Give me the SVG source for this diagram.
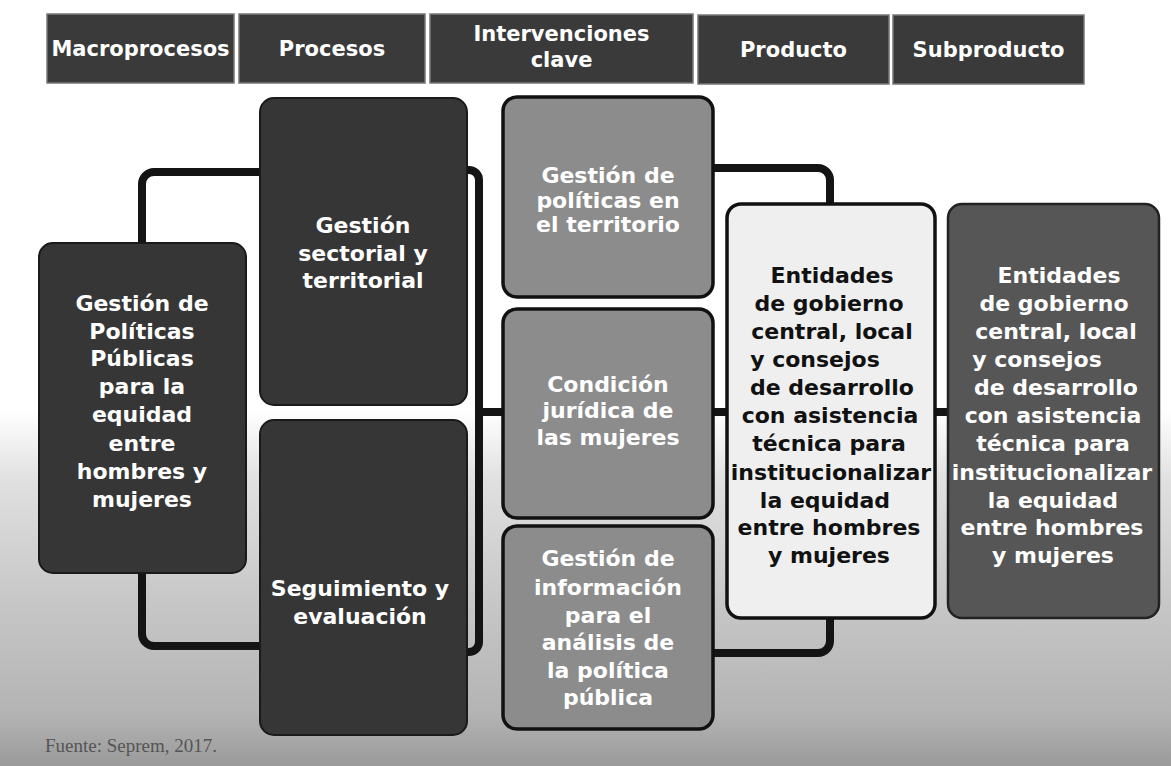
<svg xmlns="http://www.w3.org/2000/svg" width="1171" height="766" viewBox="0 0 1171 766">
  <defs>
    <linearGradient id="bg" x1="0" y1="0" x2="0" y2="1">
      <stop offset="0" stop-color="#ffffff"/>
      <stop offset="0.2" stop-color="#e0e0e0"/>
      <stop offset="0.55" stop-color="#c6c6c6"/>
      <stop offset="0.85" stop-color="#b4b4b4"/>
      <stop offset="1" stop-color="#9a9a9a"/>
    </linearGradient>
    <style>
      .hdr { fill: #3a3a3a; stroke: #777; stroke-width: 1.5; }
      .hdrtxt { font-family: "DejaVu Sans", "Liberation Sans", sans-serif; font-weight: bold; font-size: 21px; fill: #ffffff; text-anchor: middle; }
      .dark { fill: #363636; stroke: #1a1a1a; stroke-width: 2; }
      .mid { fill: #8c8c8c; stroke: #111; stroke-width: 3.5; }
      .light { fill: #efefef; stroke: #111; stroke-width: 3.5; }
      .sub { fill: #565656; stroke: #222; stroke-width: 2.5; }
      .wt { font-family: "DejaVu Sans", "Liberation Sans", sans-serif; font-weight: bold; font-size: 22px; fill: #ffffff; text-anchor: middle; }
      .bt { font-family: "DejaVu Sans", "Liberation Sans", sans-serif; font-weight: bold; font-size: 22px; fill: #111111; text-anchor: middle; }
      .conn { fill: none; stroke: #141414; stroke-width: 8; stroke-linejoin: round; }
      .src { font-family: "Liberation Serif", serif; font-size: 19px; fill: #555555; }
    </style>
  </defs>

  <rect x="0" y="0" width="1171" height="766" fill="#ffffff"/>
  <rect x="0" y="410" width="1171" height="356" fill="url(#bg)"/>

  <g id="headers">
    <g id="h-macro">
      <rect class="hdr" x="47" y="14" width="187" height="69"/>
      <text class="hdrtxt" x="140.5" y="56">Macroprocesos</text>
    </g>
    <g id="h-procesos">
      <rect class="hdr" x="239" y="14" width="186" height="69"/>
      <text class="hdrtxt" x="332" y="56">Procesos</text>
    </g>
    <g id="h-interv">
      <rect class="hdr" x="430" y="14" width="263" height="69"/>
      <text class="hdrtxt" x="561.5" y="41">Intervenciones</text>
      <text class="hdrtxt" x="561.5" y="67">clave</text>
    </g>
    <g id="h-producto">
      <rect class="hdr" x="698" y="15" width="191" height="69"/>
      <text class="hdrtxt" x="793.5" y="57">Producto</text>
    </g>
    <g id="h-subproducto">
      <rect class="hdr" x="893" y="15" width="191" height="69"/>
      <text class="hdrtxt" x="988.5" y="57">Subproducto</text>
    </g>
  </g>

  <g id="connectors">
    <path class="conn" d="M142 243 V184 A12 12 0 0 1 154 172 H262"/>
    <path class="conn" d="M142 572 V634 A12 12 0 0 0 154 646 H262"/>
    <path class="conn" d="M466 170 H469 A10 10 0 0 1 479 180 V642 A10 10 0 0 1 469 652 H466"/>
    <path class="conn" d="M479 412 H505"/>
    <path class="conn" d="M711 168 H818 A12 12 0 0 1 830 180 V205"/>
    <path class="conn" d="M711 412 H729"/>
    <path class="conn" d="M830 616 V641 A12 12 0 0 1 818 653 H711"/>
    <path class="conn" d="M933 412 H950"/>
  </g>

  <g id="macro">
    <rect class="dark" x="39" y="243" width="207" height="330" rx="14"/>
    <text class="wt" x="142" y="311">Gestión de</text>
    <text class="wt" x="142" y="339">Políticas</text>
    <text class="wt" x="142" y="366">Públicas</text>
    <text class="wt" x="142" y="394">para la</text>
    <text class="wt" x="142" y="422">equidad</text>
    <text class="wt" x="142" y="451">entre</text>
    <text class="wt" x="142" y="479">hombres y</text>
    <text class="wt" x="142" y="507">mujeres</text>
  </g>

  <g id="proc-gestion">
    <rect class="dark" x="260" y="98" width="207" height="307" rx="14"/>
    <text class="wt" x="363" y="233">Gestión</text>
    <text class="wt" x="363" y="261">sectorial y</text>
    <text class="wt" x="363" y="288">territorial</text>
  </g>

  <g id="proc-seguimiento">
    <rect class="dark" x="260" y="420" width="207" height="315" rx="14"/>
    <text class="wt" x="360" y="596">Seguimiento y</text>
    <text class="wt" x="360" y="624">evaluación</text>
  </g>

  <g id="interv-territorio">
    <rect class="mid" x="503" y="97" width="210" height="200" rx="14"/>
    <text class="wt" x="608" y="183">Gestión de</text>
    <text class="wt" x="608" y="208">políticas en</text>
    <text class="wt" x="608" y="232">el territorio</text>
  </g>

  <g id="interv-juridica">
    <rect class="mid" x="503" y="309" width="210" height="209" rx="14"/>
    <text class="wt" x="608" y="392">Condición</text>
    <text class="wt" x="608" y="418">jurídica de</text>
    <text class="wt" x="608" y="445">las mujeres</text>
  </g>

  <g id="interv-informacion">
    <rect class="mid" x="503" y="526" width="210" height="203" rx="14"/>
    <text class="wt" x="608" y="566">Gestión de</text>
    <text class="wt" x="608" y="595">información</text>
    <text class="wt" x="608" y="623">para el</text>
    <text class="wt" x="608" y="650">análisis de</text>
    <text class="wt" x="608" y="678">la política</text>
    <text class="wt" x="608" y="705">pública</text>
  </g>

  <g id="producto">
    <rect class="light" x="727" y="204" width="208" height="414" rx="14"/>
    <text class="bt" x="832" y="283">Entidades</text>
    <text class="bt" x="829" y="311">de gobierno</text>
    <text class="bt" x="832" y="339">central, local</text>
    <text class="bt" x="815" y="367">y consejos</text>
    <text class="bt" x="832" y="395">de desarrollo</text>
    <text class="bt" x="830" y="423">con asistencia</text>
    <text class="bt" x="829" y="451">técnica para</text>
    <text class="bt" x="831" y="480">institucionalizar</text>
    <text class="bt" x="825" y="508">la equidad</text>
    <text class="bt" x="829" y="535">entre hombres</text>
    <text class="bt" x="829" y="563">y mujeres</text>
  </g>

  <g id="subproducto">
    <rect class="sub" x="948" y="204" width="211" height="414" rx="14"/>
    <text class="wt" x="1059" y="283">Entidades</text>
    <text class="wt" x="1054" y="311">de gobierno</text>
    <text class="wt" x="1056" y="339">central, local</text>
    <text class="wt" x="1037" y="367">y consejos</text>
    <text class="wt" x="1056" y="395">de desarrollo</text>
    <text class="wt" x="1053" y="423">con asistencia</text>
    <text class="wt" x="1053" y="451">técnica para</text>
    <text class="wt" x="1052" y="480">institucionalizar</text>
    <text class="wt" x="1053" y="508">la equidad</text>
    <text class="wt" x="1052" y="535">entre hombres</text>
    <text class="wt" x="1053" y="563">y mujeres</text>
  </g>

  <text class="src" x="45" y="752">Fuente: Seprem, 2017.</text>
</svg>
